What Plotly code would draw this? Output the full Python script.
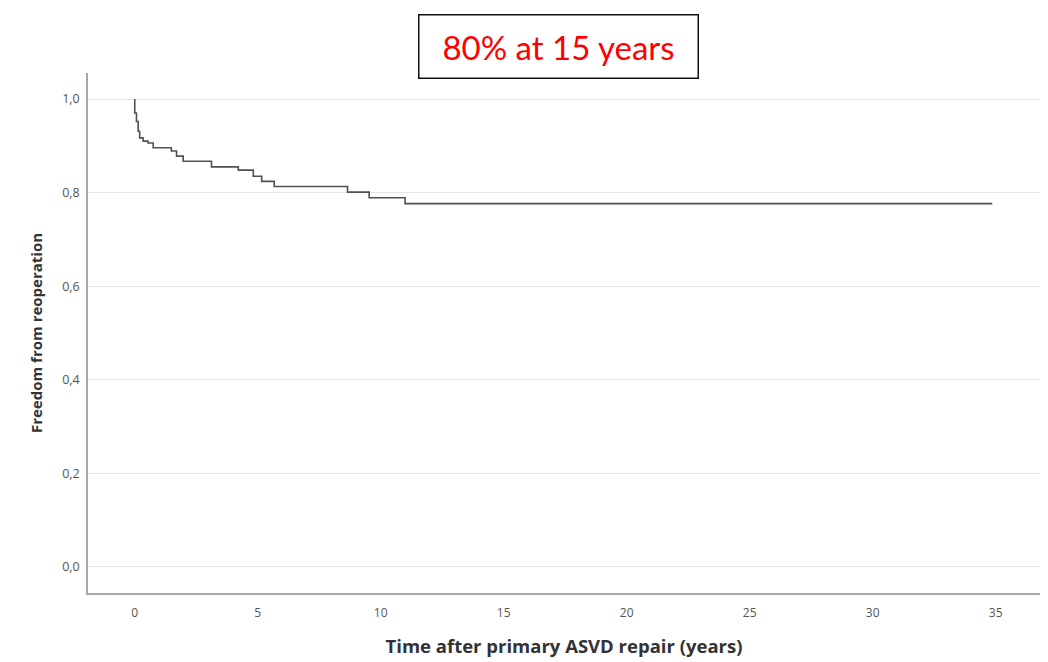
import plotly.graph_objects as go

# Kaplan-Meier step curve (time in years, survival fraction)
times = [0.0, 0.0, 0.07, 0.14, 0.20, 0.34, 0.54, 0.75, 1.49, 1.70, 1.97, 3.12, 4.21, 4.82, 5.16, 5.67, 8.65, 9.53, 10.99, 34.86]
surv = [1.0, 0.970, 0.952, 0.931, 0.917, 0.910, 0.906, 0.896, 0.889, 0.878, 0.867, 0.855, 0.848, 0.835, 0.824, 0.813, 0.801, 0.789, 0.7765, 0.7765]

x_ticks = [0, 5, 10, 15, 20, 25, 30, 35]
y_ticks = [0.0, 0.2, 0.4, 0.6, 0.8, 1.0]
y_tick_labels = ["0,0", "0,2", "0,4", "0,6", "0,8", "1,0"]

fig = go.Figure()
fig.add_trace(go.Scatter(
    x=times, y=surv, mode="lines", line_shape="hv",
    line=dict(color="#505050", width=1.6), showlegend=False, hoverinfo="skip"))

fig.update_layout(
    width=1048, height=662,
    margin=dict(l=88, r=8, t=73, b=69),
    paper_bgcolor="white", plot_bgcolor="white",
    font=dict(family="Open Sans", color="#333333"),
    xaxis=dict(
        range=[-1.9, 36.8], tickvals=x_ticks, showgrid=False, zeroline=False,
        showline=True, linecolor="#a8a8a8", linewidth=1.5, ticks="",
        tickfont=dict(size=12, color="#555555"), ticklabelstandoff=8,
        title=dict(text="<b>Time after primary ASVD repair (years)</b>",
                   font=dict(size=18.5, color="#333333"), standoff=20),
    ),
    yaxis=dict(
        range=[-0.0556, 1.0556], tickvals=y_ticks, ticktext=y_tick_labels,
        showgrid=True, gridcolor="#e6e6e6", gridwidth=1.2, zeroline=False,
        showline=True, linecolor="#a8a8a8", linewidth=1.5, ticks="",
        tickfont=dict(size=12.5, color="#555555"), ticklabelstandoff=4,
        title=dict(text="<b>Freedom from reoperation</b>",
                   font=dict(size=15, color="#333333"), standoff=16),
    ),
    annotations=[dict(
        text="80% at 15 years", xref="paper", yref="paper",
        x=0.4937, y=1.051, xanchor="center", yanchor="middle",
        showarrow=False, font=dict(family="Lato", size=33, color="#ff0000"),
        bordercolor="#111111", borderwidth=1.5, borderpad=0,
        bgcolor="white", width=278, height=62,
    )],
)

fig.write_html("out.html")
